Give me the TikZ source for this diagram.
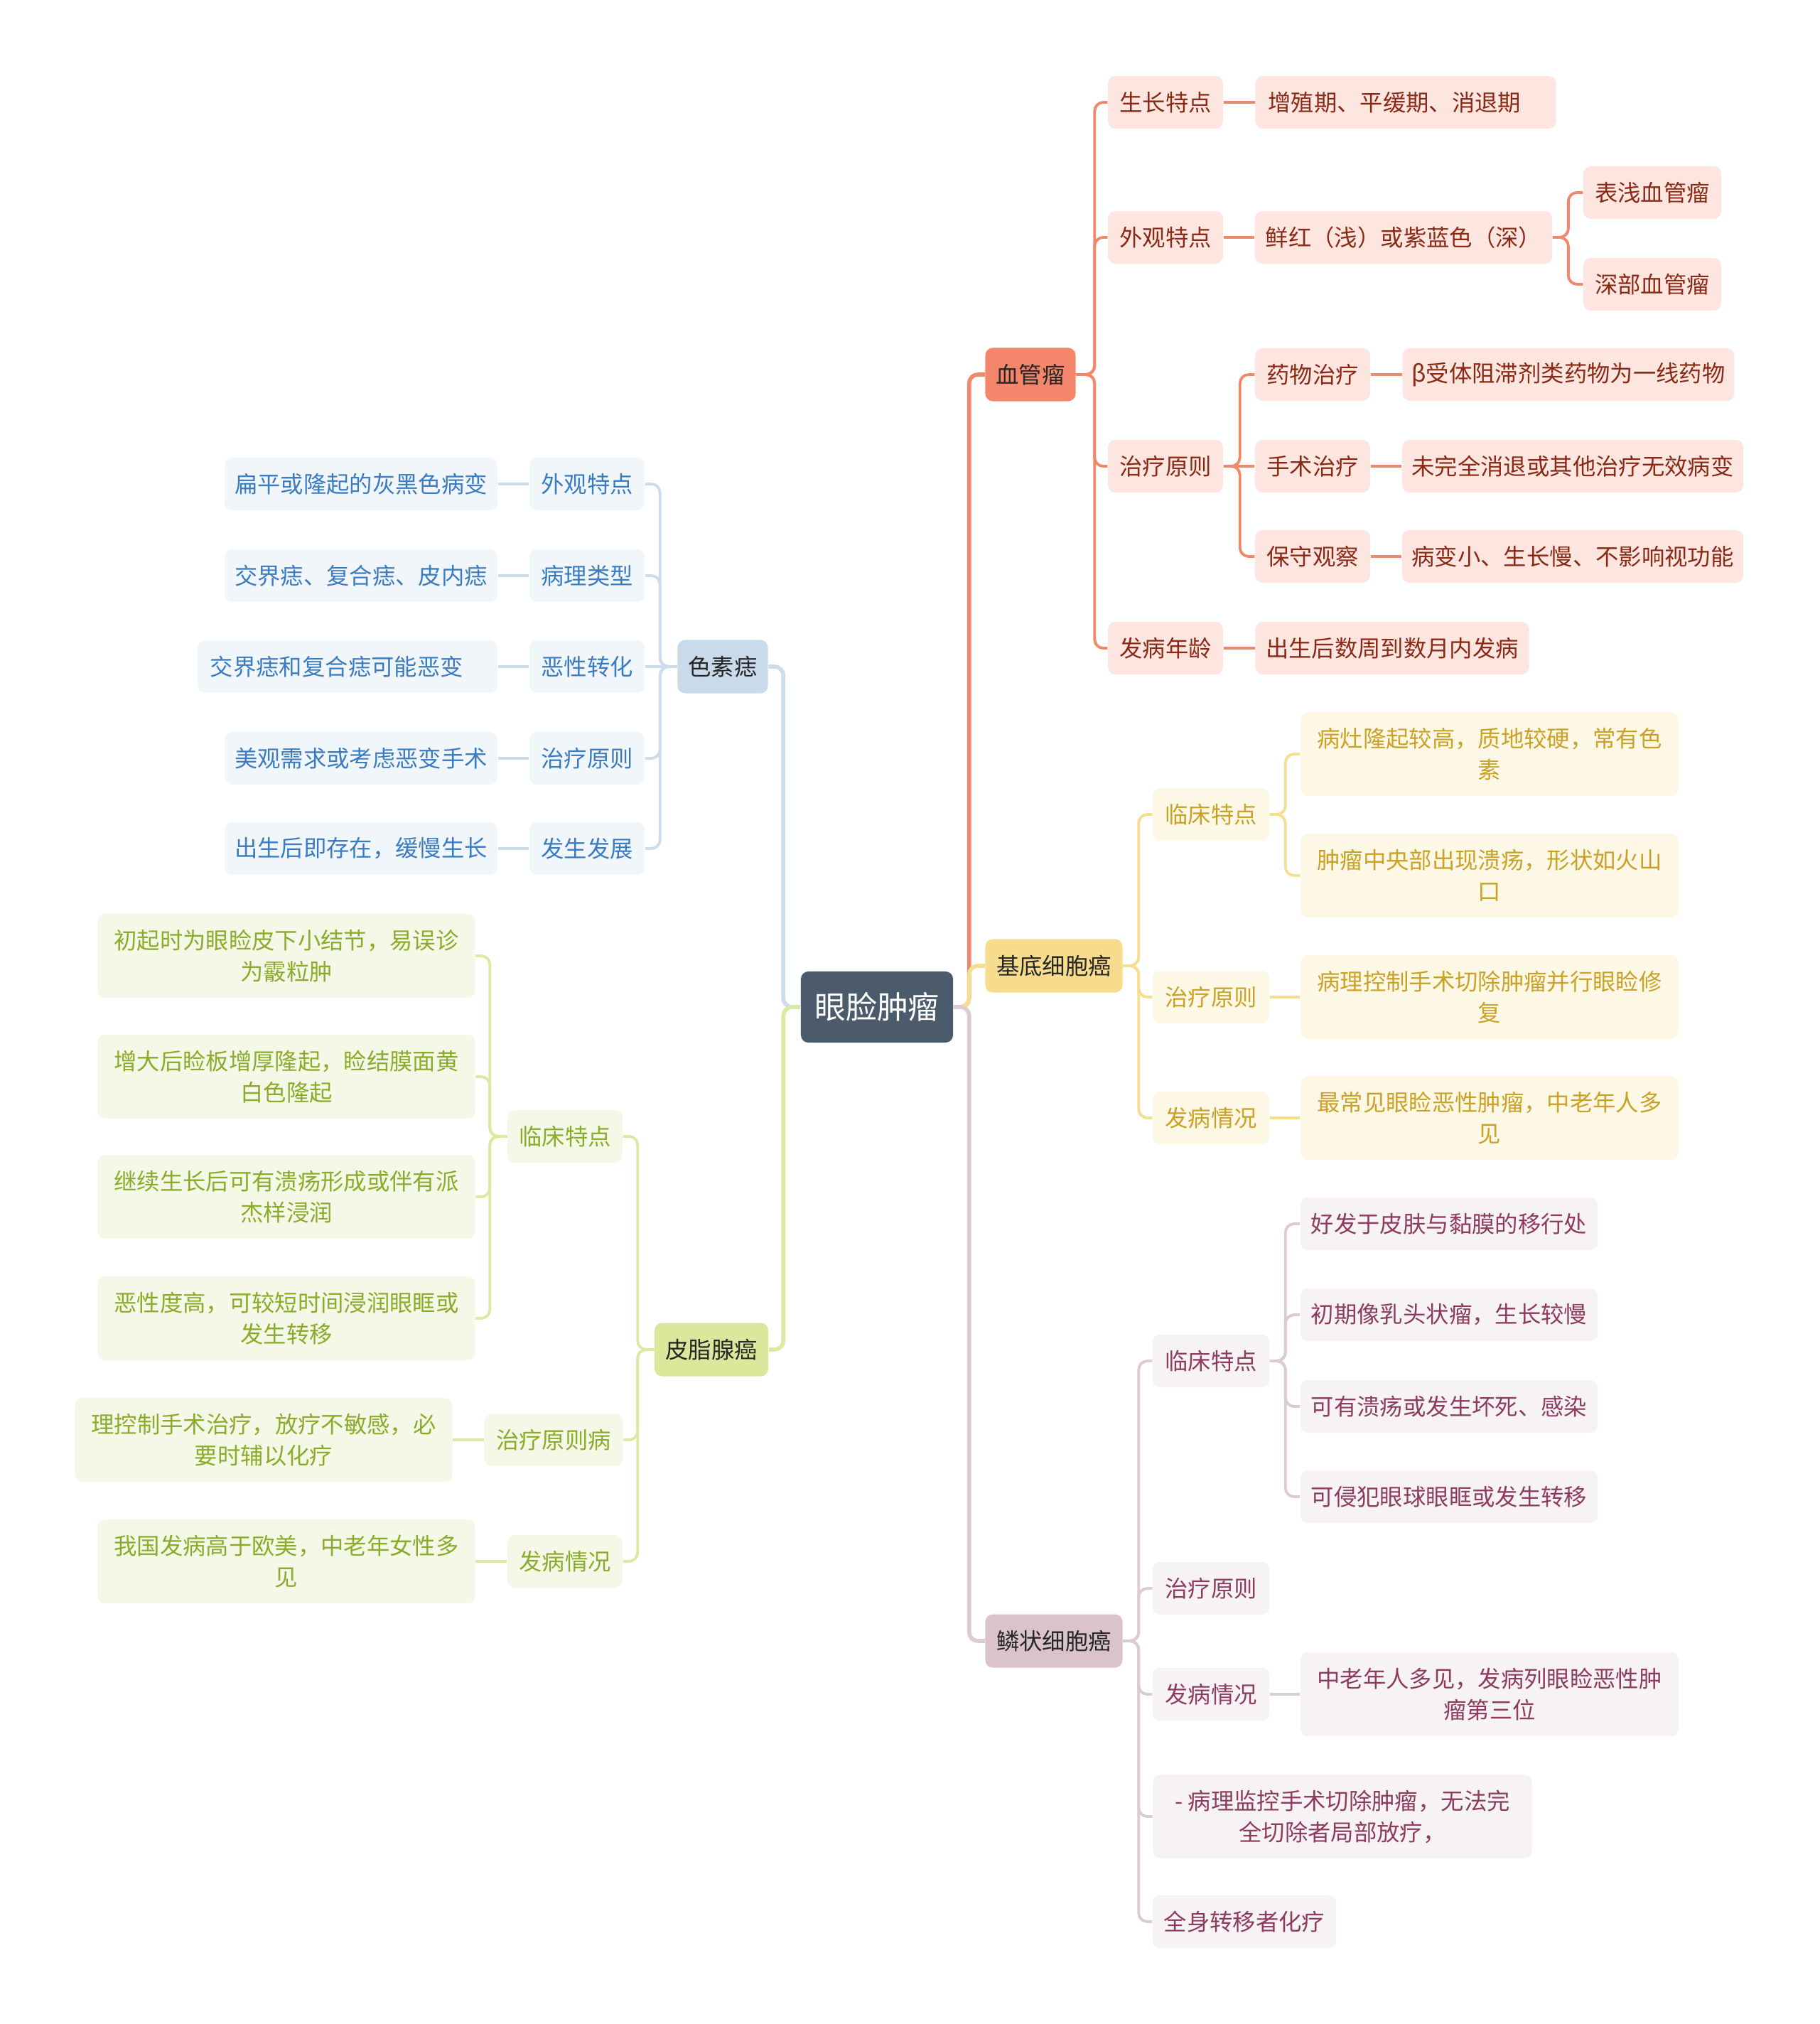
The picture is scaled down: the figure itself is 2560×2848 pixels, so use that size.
\documentclass[tikz,border=0pt]{standalone}
\usepackage{fontspec}
\setmainfont{Noto Sans CJK SC}
\usepackage{xcolor}
\usepackage{tikz}
\usetikzlibrary{positioning, calc}
\definecolor{rootgray}{HTML}{4B5B6B}
\definecolor{hemmain}{HTML}{F4876B}
\definecolor{hemline}{HTML}{F0886C}
\definecolor{hemleaf}{HTML}{FDE6E0}
\definecolor{hemtext}{HTML}{8A2A16}
\definecolor{bccmain}{HTML}{F6DC8C}
\definecolor{bccline}{HTML}{F5DE90}
\definecolor{bccleaf}{HTML}{FDF8E5}
\definecolor{bcctext}{HTML}{C9A227}
\definecolor{sccmain}{HTML}{DAC3CB}
\definecolor{sccline}{HTML}{DCCBD1}
\definecolor{sccleaf}{HTML}{F7F2F4}
\definecolor{scctext}{HTML}{8C3D5F}
\definecolor{nevmain}{HTML}{C9DAEA}
\definecolor{nevline}{HTML}{CDDCEB}
\definecolor{nevleaf}{HTML}{F1F6FA}
\definecolor{nevtext}{HTML}{3B7CC0}
\definecolor{sebmain}{HTML}{D9E89B}
\definecolor{sebline}{HTML}{DBE9A3}
\definecolor{sebleaf}{HTML}{F5F8E6}
\definecolor{sebtext}{HTML}{8AAB2C}
\newcommand{\mmfont}{\fontsize{9.2}{12.5}\selectfont}

\begin{document}
\begin{tikzpicture}[x=0.01cm, y=-0.01cm,
    box/.style={rectangle, rounded corners=3pt, inner sep=0pt, minimum height=0.74cm, align=center, font=\mmfont},
    topic/.style={box, fill=#1, text=black!85, minimum height=0.75cm},
    hemleafbox/.style={box, fill=hemleaf, text=hemtext},
    bccleafbox/.style={box, fill=bccleaf, text=bcctext},
    sccleafbox/.style={box, fill=sccleaf, text=scctext},
    nevleafbox/.style={box, fill=nevleaf, text=nevtext},
    sebleafbox/.style={box, fill=sebleaf, text=sebtext},
    tall/.style={minimum height=1.18cm},
    leftset/.style={align=left, inner xsep=0.18cm, text width=#1},
    elbow/.style={to path={-- ++(#1,0) |- (\tikztotarget)}},
    trunk/.style={line width=1.6pt, rounded corners=3.5pt},
    twig/.style={line width=1.1pt, rounded corners=3.5pt}]
    \useasboundingbox (0,0) rectangle (2560,2848);

    % Root
    \node[box, fill=rootgray, text=white, font=\fontsize{12.5}{15}\selectfont, minimum width=2.14cm, minimum height=1cm] (eyelid) at (1234,1417) {眼脸肿瘤};

    % Main topics
    \node[topic=hemmain, minimum width=1.27cm] (hem) at (1450,527) {血管瘤};
    \node[topic=bccmain, minimum width=1.93cm] (bcc) at (1483,1359) {基底细胞癌};
    \node[topic=sccmain, minimum width=1.93cm] (scc) at (1483,2309) {鳞状细胞癌};
    \node[topic=nevmain, minimum width=1.27cm] (nev) at (1017,938) {色素痣};
    \node[topic=sebmain, minimum width=1.60cm] (seb) at (1001,1899) {皮脂腺癌};

    % Hemangioma
    \node[hemleafbox, minimum width=1.62cm] (hem1) at (1640,144) {生长特点};
    \node[hemleafbox, minimum width=1.62cm] (hem2) at (1640,334) {外观特点};
    \node[hemleafbox, minimum width=1.62cm] (hem3) at (1640,656) {治疗原则};
    \node[hemleafbox, minimum width=1.62cm] (hem4) at (1640,912) {发病年龄};
    \node[hemleafbox, leftset=3.87cm] (hem1a) at (1978,144) {增殖期、平缓期、消退期};
    \node[hemleafbox, minimum width=4.18cm] (hem2a) at (1975,334) {鲜红（浅）或紫蓝色（深）};
    \node[hemleafbox, minimum width=1.94cm] (hem2a1) at (2325,271) {表浅血管瘤};
    \node[hemleafbox, minimum width=1.94cm] (hem2a2) at (2325,400) {深部血管瘤};
    \node[hemleafbox, minimum width=1.62cm] (hem3a) at (1847,527) {药物治疗};
    \node[hemleafbox, minimum width=1.62cm] (hem3b) at (1847,656) {手术治疗};
    \node[hemleafbox, minimum width=1.62cm] (hem3c) at (1847,783) {保守观察};
    \node[hemleafbox, minimum width=4.67cm] (hem3a1) at (2207,527) {β受体阻滞剂类药物为一线药物};
    \node[hemleafbox, minimum width=4.80cm] (hem3b1) at (2213,656) {未完全消退或其他治疗无效病变};
    \node[hemleafbox, minimum width=4.80cm] (hem3c1) at (2213,783) {病变小、生长慢、不影响视功能};
    \node[hemleafbox, minimum width=3.85cm] (hem4a) at (1959,912) {出生后数周到数月内发病};

    % Basal cell carcinoma
    \node[bccleafbox, minimum width=1.64cm] (bcc1) at (1704,1146) {临床特点};
    \node[bccleafbox, minimum width=1.64cm] (bcc2) at (1704,1403) {治疗原则};
    \node[bccleafbox, minimum width=1.64cm] (bcc3) at (1704,1573) {发病情况};
    \node[bccleafbox, tall, minimum width=5.32cm] (bcc1a) at (2096,1061) {病灶隆起较高，质地较硬，常有色\\素};
    \node[bccleafbox, tall, minimum width=5.32cm] (bcc1b) at (2096,1232) {肿瘤中央部出现溃疡，形状如火山\\口};
    \node[bccleafbox, tall, minimum width=5.32cm] (bcc2a) at (2096,1403) {病理控制手术切除肿瘤并行眼睑修\\复};
    \node[bccleafbox, tall, minimum width=5.32cm] (bcc3a) at (2096,1573) {最常见眼睑恶性肿瘤，中老年人多\\见};

    % Squamous cell carcinoma
    \node[sccleafbox, minimum width=1.64cm] (scc1) at (1704,1915) {临床特点};
    \node[sccleafbox, minimum width=1.64cm] (scc2) at (1704,2235) {治疗原则};
    \node[sccleafbox, minimum width=1.64cm] (scc3) at (1704,2384) {发病情况};
    \node[sccleafbox, tall, minimum width=5.33cm] (scc4) at (1889,2556) {- 病理监控手术切除肿瘤，无法完\\全切除者局部放疗，};
    \node[sccleafbox, minimum width=2.58cm] (scc5) at (1751,2704) {全身转移者化疗};
    \node[sccleafbox, minimum width=4.18cm] (scc1a) at (2039,1722) {好发于皮肤与黏膜的移行处};
    \node[sccleafbox, minimum width=4.18cm] (scc1b) at (2039,1850) {初期像乳头状瘤，生长较慢};
    \node[sccleafbox, minimum width=4.18cm] (scc1c) at (2039,1979) {可有溃疡或发生坏死、感染};
    \node[sccleafbox, minimum width=4.18cm] (scc1d) at (2039,2106) {可侵犯眼球眼眶或发生转移};
    \node[sccleafbox, tall, minimum width=5.32cm] (scc3a) at (2096,2384) {中老年人多见，发病列眼睑恶性肿\\瘤第三位};

    % Nevus
    \node[nevleafbox, minimum width=1.62cm] (nev1) at (826,681) {外观特点};
    \node[nevleafbox, minimum width=1.62cm] (nev2) at (826,810) {病理类型};
    \node[nevleafbox, minimum width=1.62cm] (nev3) at (826,938) {恶性转化};
    \node[nevleafbox, minimum width=1.62cm] (nev4) at (826,1067) {治疗原则};
    \node[nevleafbox, minimum width=1.62cm] (nev5) at (826,1194) {发生发展};
    \node[nevleafbox, minimum width=3.84cm] (nev1a) at (508,681) {扁平或隆起的灰黑色病变};
    \node[nevleafbox, minimum width=3.84cm] (nev2a) at (508,810) {交界痣、复合痣、皮内痣};
    \node[nevleafbox, leftset=3.86cm] (nev3a) at (489,938) {交界痣和复合痣可能恶变};
    \node[nevleafbox, minimum width=3.84cm] (nev4a) at (508,1067) {美观需求或考虑恶变手术};
    \node[nevleafbox, minimum width=3.84cm] (nev5a) at (508,1194) {出生后即存在，缓慢生长};

    % Sebaceous carcinoma
    \node[sebleafbox, minimum width=1.62cm] (seb1) at (795,1599) {临床特点};
    \node[sebleafbox, minimum width=1.95cm] (seb2) at (779,2026) {治疗原则病};
    \node[sebleafbox, minimum width=1.62cm] (seb3) at (795,2197) {发病情况};
    \node[sebleafbox, tall, minimum width=5.31cm] (seb1a) at (403,1345) {初起时为眼睑皮下小结节，易误诊\\为霰粒肿};
    \node[sebleafbox, tall, minimum width=5.31cm] (seb1b) at (403,1515) {增大后睑板增厚隆起，睑结膜面黄\\白色隆起};
    \node[sebleafbox, tall, minimum width=5.31cm] (seb1c) at (403,1684) {继续生长后可有溃疡形成或伴有派\\杰样浸润};
    \node[sebleafbox, tall, minimum width=5.31cm] (seb1d) at (403,1855) {恶性度高，可较短时间浸润眼眶或\\发生转移};
    \node[sebleafbox, tall, minimum width=5.31cm] (seb2a) at (371,2026) {理控制手术治疗，放疗不敏感，必\\要时辅以化疗};
    \node[sebleafbox, tall, minimum width=5.31cm] (seb3a) at (403,2197) {我国发病高于欧美，中老年女性多\\见};

    % Root connections
    \draw[trunk, hemline] (eyelid.east) to[elbow=22] (hem.west);
    \draw[trunk, bccline] (eyelid.east) to[elbow=22] (bcc.west);
    \draw[trunk, sccline] (eyelid.east) to[elbow=22] (scc.west);
    \draw[trunk, nevline] (eyelid.west) to[elbow=-24] (nev.east);
    \draw[trunk, sebline] (eyelid.west) to[elbow=-24] (seb.east);

    % Hemangioma connections
    \draw[twig, hemline] (hem.east) to[elbow=26] (hem1.west);
    \draw[twig, hemline] (hem.east) to[elbow=26] (hem2.west);
    \draw[twig, hemline] (hem.east) to[elbow=26] (hem3.west);
    \draw[twig, hemline] (hem.east) to[elbow=26] (hem4.west);
    \draw[twig, hemline] (hem1.east) -- (hem1a.west);
    \draw[twig, hemline] (hem2.east) -- (hem2a.west);
    \draw[twig, hemline] (hem2a.east) to[elbow=22] (hem2a1.west);
    \draw[twig, hemline] (hem2a.east) to[elbow=22] (hem2a2.west);
    \draw[twig, hemline] (hem3.east) to[elbow=23] (hem3a.west);
    \draw[twig, hemline] (hem3.east) -- (hem3b.west);
    \draw[twig, hemline] (hem3.east) to[elbow=23] (hem3c.west);
    \draw[twig, hemline] (hem3a.east) -- (hem3a1.west);
    \draw[twig, hemline] (hem3b.east) -- (hem3b1.west);
    \draw[twig, hemline] (hem3c.east) -- (hem3c1.west);
    \draw[twig, hemline] (hem4.east) -- (hem4a.west);

    % Basal cell carcinoma connections
    \draw[twig, bccline] (bcc.east) to[elbow=22] (bcc1.west);
    \draw[twig, bccline] (bcc.east) to[elbow=22] (bcc2.west);
    \draw[twig, bccline] (bcc.east) to[elbow=22] (bcc3.west);
    \draw[twig, bccline] (bcc1.east) to[elbow=22] (bcc1a.west);
    \draw[twig, bccline] (bcc1.east) to[elbow=22] (bcc1b.west);
    \draw[twig, bccline] (bcc2.east) -- (bcc2a.west);
    \draw[twig, bccline] (bcc3.east) -- (bcc3a.west);

    % Squamous cell carcinoma connections
    \foreach \k in {scc1,scc2,scc3,scc4,scc5}
        \draw[twig, sccline] (scc.east) to[elbow=22] (\k.west);
    \foreach \k in {scc1a,scc1b,scc1c,scc1d}
        \draw[twig, sccline] (scc1.east) to[elbow=22] (\k.west);
    \draw[twig, sccline] (scc3.east) -- (scc3a.west);

    % Nevus connections
    \draw[twig, nevline] (nev.west) to[elbow=-24] (nev1.east);
    \draw[twig, nevline] (nev.west) to[elbow=-24] (nev2.east);
    \draw[twig, nevline] (nev.west) -- (nev3.east);
    \draw[twig, nevline] (nev.west) to[elbow=-24] (nev4.east);
    \draw[twig, nevline] (nev.west) to[elbow=-24] (nev5.east);
    \foreach \k in {nev1,nev2,nev3,nev4,nev5}
        \draw[twig, nevline] (\k.west) -- (\k a.east);

    % Sebaceous carcinoma connections
    \foreach \k in {seb1,seb2,seb3}
        \draw[twig, sebline] (seb.west) to[elbow=-23] (\k.east);
    \foreach \k in {seb1a,seb1b,seb1c,seb1d}
        \draw[twig, sebline] (seb1.west) to[elbow=-24] (\k.east);
    \draw[twig, sebline] (seb2.west) -- (seb2a.east);
    \draw[twig, sebline] (seb3.west) -- (seb3a.east);
\end{tikzpicture}
\end{document}
